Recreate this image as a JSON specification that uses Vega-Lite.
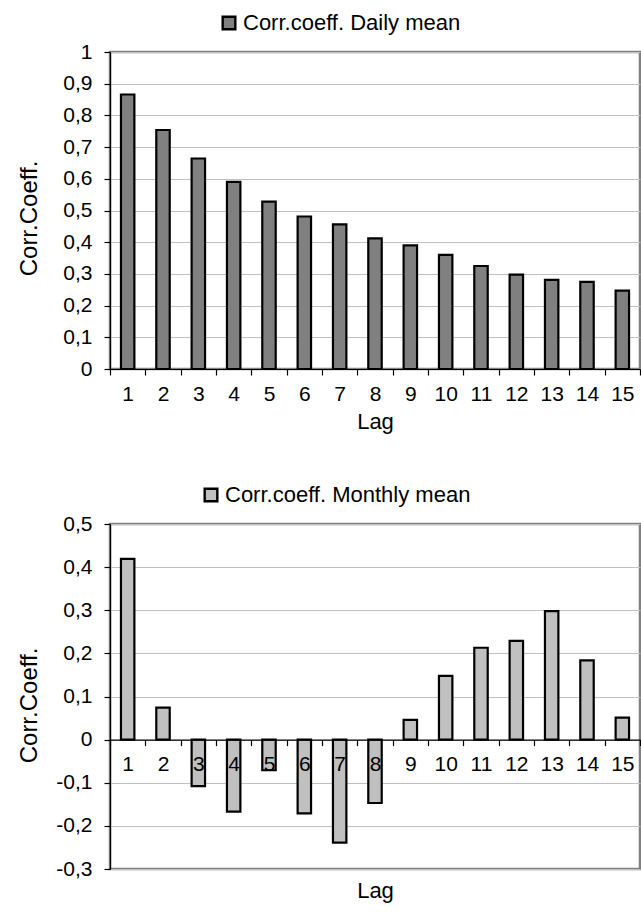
{
  "$schema": "https://vega.github.io/schema/vega-lite/v6.json",
  "background": "white",
  "padding": {"left": 15, "top": 10, "right": 2, "bottom": 6},
  "bounds": "flush",
  "spacing": 155,
  "config": {
    "font": "Liberation Sans",
    "view": {"stroke": "#808080", "strokeWidth": 2.5},
    "axis": {
      "labelFont": "Liberation Sans",
      "titleFont": "Liberation Sans",
      "labelFontSize": 21,
      "titleFontSize": 22,
      "titleFontWeight": "normal",
      "labelColor": "black",
      "titleColor": "black",
      "domainColor": "black",
      "tickColor": "black",
      "domainWidth": 1.2,
      "tickWidth": 1.2,
      "gridColor": "#c0c0c0",
      "gridWidth": 1.2
    },
    "legend": {
      "labelFont": "Liberation Sans",
      "labelFontSize": 22,
      "labelColor": "black",
      "labelLimit": 500,
      "symbolType": "square",
      "symbolSize": 160,
      "symbolStrokeColor": "black",
      "symbolStrokeWidth": 2.4,
      "labelOffset": 3
    }
  },
  "datasets": {
    "daily": [
      {"lag": 1, "coef": 0.866, "series": "Corr.coeff. Daily mean"},
      {"lag": 2, "coef": 0.754, "series": "Corr.coeff. Daily mean"},
      {"lag": 3, "coef": 0.664, "series": "Corr.coeff. Daily mean"},
      {"lag": 4, "coef": 0.59, "series": "Corr.coeff. Daily mean"},
      {"lag": 5, "coef": 0.528, "series": "Corr.coeff. Daily mean"},
      {"lag": 6, "coef": 0.481, "series": "Corr.coeff. Daily mean"},
      {"lag": 7, "coef": 0.456, "series": "Corr.coeff. Daily mean"},
      {"lag": 8, "coef": 0.412, "series": "Corr.coeff. Daily mean"},
      {"lag": 9, "coef": 0.39, "series": "Corr.coeff. Daily mean"},
      {"lag": 10, "coef": 0.36, "series": "Corr.coeff. Daily mean"},
      {"lag": 11, "coef": 0.325, "series": "Corr.coeff. Daily mean"},
      {"lag": 12, "coef": 0.298, "series": "Corr.coeff. Daily mean"},
      {"lag": 13, "coef": 0.281, "series": "Corr.coeff. Daily mean"},
      {"lag": 14, "coef": 0.275, "series": "Corr.coeff. Daily mean"},
      {"lag": 15, "coef": 0.247, "series": "Corr.coeff. Daily mean"}
    ],
    "monthly": [
      {"lag": 1, "coef": 0.419, "series": "Corr.coeff. Monthly mean"},
      {"lag": 2, "coef": 0.074, "series": "Corr.coeff. Monthly mean"},
      {"lag": 3, "coef": -0.108, "series": "Corr.coeff. Monthly mean"},
      {"lag": 4, "coef": -0.167, "series": "Corr.coeff. Monthly mean"},
      {"lag": 5, "coef": -0.071, "series": "Corr.coeff. Monthly mean"},
      {"lag": 6, "coef": -0.171, "series": "Corr.coeff. Monthly mean"},
      {"lag": 7, "coef": -0.239, "series": "Corr.coeff. Monthly mean"},
      {"lag": 8, "coef": -0.147, "series": "Corr.coeff. Monthly mean"},
      {"lag": 9, "coef": 0.046, "series": "Corr.coeff. Monthly mean"},
      {"lag": 10, "coef": 0.148, "series": "Corr.coeff. Monthly mean"},
      {"lag": 11, "coef": 0.213, "series": "Corr.coeff. Monthly mean"},
      {"lag": 12, "coef": 0.229, "series": "Corr.coeff. Monthly mean"},
      {"lag": 13, "coef": 0.298, "series": "Corr.coeff. Monthly mean"},
      {"lag": 14, "coef": 0.184, "series": "Corr.coeff. Monthly mean"},
      {"lag": 15, "coef": 0.051, "series": "Corr.coeff. Monthly mean"}
    ]
  },
  "resolve": {"scale": {"color": "independent"}, "legend": {"color": "independent"}},
  "vconcat": [
    {
      "width": 530,
      "height": 317,
      "data": {"name": "daily"},
      "mark": {"type": "bar", "stroke": "black", "strokeWidth": 2.2, "width": {"band": 0.38}},
      "encoding": {
        "x": {
          "field": "lag",
          "type": "ordinal",
          "scale": {"paddingInner": 0, "paddingOuter": 0},
          "axis": {
            "title": "Lag",
            "labelAngle": 0,
            "tickBand": "extent",
            "tickSize": 6,
            "labelPadding": 8,
            "titlePadding": 7,
            "grid": false
          }
        },
        "y": {
          "field": "coef",
          "type": "quantitative",
          "scale": {"domain": [0, 1], "nice": false},
          "axis": {
            "title": "Corr.Coeff.",
            "values": [0, 0.1, 0.2, 0.3, 0.4, 0.5, 0.6, 0.7, 0.8, 0.9, 1],
            "labelExpr": "replace(replace(format(datum.value, '.1~f'), '.', ','), '\u2212', '-')",
            "tickSize": 6,
            "labelPadding": 12,
            "grid": true,
            "titleFontSize": 24,
            "titleX": -81,
            "titleY": 166,
            "titleBaseline": "middle",
            "titleAlign": "center"
          }
        },
        "color": {
          "field": "series",
          "type": "nominal",
          "scale": {"range": ["#808080"]},
          "legend": {"title": null, "orient": "none", "legendX": 108, "legendY": -40}
        }
      }
    },
    {
      "width": 530,
      "height": 345,
      "data": {"name": "monthly"},
      "mark": {"type": "bar", "stroke": "black", "strokeWidth": 2.2, "width": {"band": 0.38}},
      "encoding": {
        "x": {
          "field": "lag",
          "type": "ordinal",
          "scale": {"paddingInner": 0, "paddingOuter": 0},
          "axis": {
            "title": "Lag",
            "labelAngle": 0,
            "tickBand": "extent",
            "tickSize": 6,
            "labelPadding": 8,
            "titlePadding": 106,
            "offset": -129.4,
            "zindex": 1,
            "grid": false
          }
        },
        "y": {
          "field": "coef",
          "type": "quantitative",
          "scale": {"domain": [-0.3, 0.5], "nice": false},
          "axis": {
            "title": "Corr.Coeff.",
            "values": [-0.3, -0.2, -0.1, 0, 0.1, 0.2, 0.3, 0.4, 0.5],
            "labelExpr": "replace(replace(format(datum.value, '.1~f'), '.', ','), '\u2212', '-')",
            "tickSize": 6,
            "labelPadding": 12,
            "grid": true,
            "titleFontSize": 24,
            "titleX": -81,
            "titleY": 181,
            "titleBaseline": "middle",
            "titleAlign": "center"
          }
        },
        "color": {
          "field": "series",
          "type": "nominal",
          "scale": {"range": ["#c0c0c0"]},
          "legend": {"title": null, "orient": "none", "legendX": 90, "legendY": -40}
        }
      }
    }
  ]
}
